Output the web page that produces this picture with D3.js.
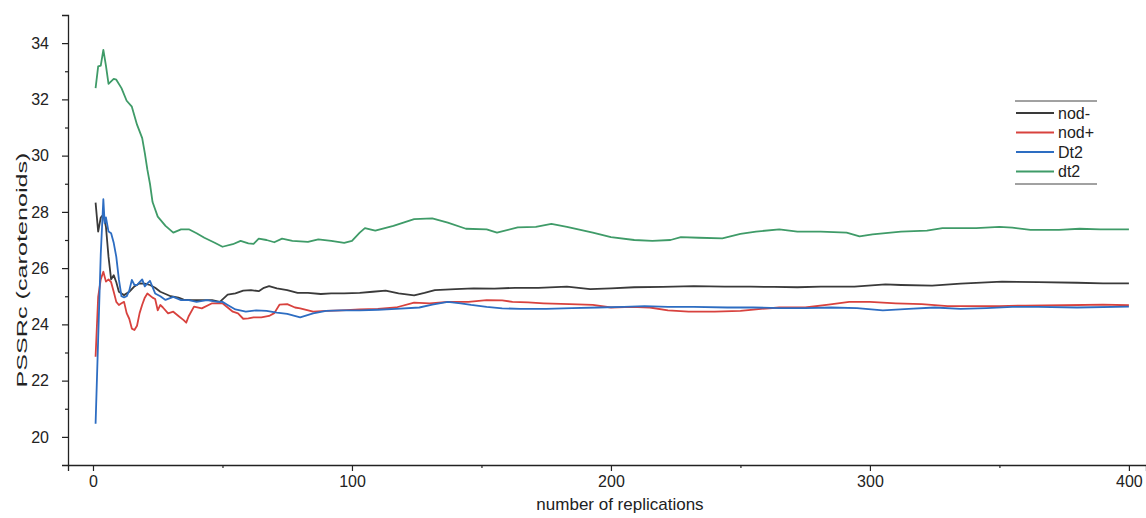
<!DOCTYPE html>
<html>
<head>
<meta charset="utf-8">
<script src="https://cdn.jsdelivr.net/npm/d3@7"></script>
<style>
  body { margin: 0; background: #fff; }
  text { font-family: "Liberation Sans", Arial, sans-serif; fill: #222; }
</style>
</head>
<body>
<div id="chartContainer"></div>
<script>
// [replication, PSSRc] pairs
var nodMinus = [[1,28.33],[2,27.3],[3,27.8],[4,27.9],[5,27.47],[6,26.4],[7,25.6],[8,25.75],[9,25.5],[10,25.16],[11,25.1],[12,25.04],[14,25.16],[16,25.35],[18,25.46],[20,25.45],[22,25.4],[24,25.3],[26,25.16],[28,25.08],[30,25.0],[33,24.95],[35,24.88],[38,24.86],[42,24.86],[46,24.86],[49,24.8],[52,25.06],[55,25.1],[58,25.2],[61,25.22],[64,25.18],[66,25.3],[68,25.36],[71,25.28],[75,25.22],[79,25.12],[83,25.12],[88,25.08],[92,25.1],[97,25.1],[103,25.12],[108,25.16],[113,25.2],[118,25.1],[124,25.03],[128,25.12],[132,25.22],[140,25.25],[147,25.28],[155,25.27],[163,25.3],[172,25.3],[183,25.34],[192,25.25],[200,25.28],[209,25.32],[220,25.33],[232,25.36],[244,25.34],[254,25.34],[263,25.33],[272,25.32],[281,25.34],[294,25.34],[306,25.42],[312,25.4],[324,25.38],[335,25.45],[351,25.52],[365,25.5],[380,25.48],[390,25.46],[400,25.46]];
var nodPlus = [[1,22.85],[2,24.98],[3,25.6],[4,25.87],[5,25.52],[6,25.6],[7,25.5],[8,25.16],[9,24.8],[10,24.69],[11,24.75],[12,24.8],[13,24.4],[14,24.2],[15,23.85],[16,23.8],[17,23.95],[18,24.4],[19,24.7],[20,24.95],[21,25.1],[23,24.95],[24,24.9],[25,24.5],[26,24.69],[27,24.6],[29,24.39],[31,24.45],[33,24.3],[35,24.15],[36,24.06],[37,24.3],[39,24.63],[42,24.57],[46,24.75],[50,24.75],[52,24.6],[54,24.45],[56,24.39],[58,24.2],[60,24.21],[62,24.25],[65,24.25],[68,24.3],[70,24.4],[72,24.7],[75,24.72],[78,24.6],[80,24.57],[85,24.45],[90,24.48],[96,24.5],[103,24.53],[110,24.55],[117,24.6],[124,24.77],[130,24.75],[137,24.8],[145,24.8],[152,24.86],[158,24.85],[162,24.8],[168,24.78],[174,24.75],[184,24.72],[193,24.69],[200,24.6],[208,24.62],[215,24.6],[222,24.5],[230,24.45],[240,24.45],[250,24.48],[258,24.55],[265,24.6],[275,24.6],[284,24.7],[292,24.8],[300,24.8],[310,24.75],[320,24.72],[330,24.65],[340,24.65],[350,24.65],[360,24.67],[375,24.68],[390,24.7],[400,24.68]];
var dt2Upper = [[1,20.47],[2,23.5],[3,26.5],[4,28.45],[4.5,27.6],[5,27.8],[6,27.3],[7,27.24],[8,26.9],[9,26.4],[10,25.6],[11,25.0],[12,24.96],[13,25.0],[14,25.2],[15,25.58],[16,25.4],[17,25.4],[18,25.5],[19,25.6],[20,25.35],[21,25.46],[22,25.55],[24,25.1],[26,25.0],[28,24.87],[31,24.98],[34,24.86],[37,24.86],[40,24.8],[44,24.86],[48,24.8],[50,24.8],[52,24.69],[55,24.53],[59,24.45],[63,24.5],[67,24.48],[71,24.42],[75,24.37],[80,24.25],[85,24.39],[90,24.48],[96,24.5],[103,24.5],[110,24.52],[117,24.55],[126,24.6],[131,24.7],[137,24.8],[142,24.75],[146,24.69],[152,24.62],[158,24.57],[165,24.55],[175,24.55],[185,24.58],[195,24.6],[205,24.62],[213,24.65],[222,24.62],[232,24.62],[245,24.6],[255,24.6],[265,24.58],[275,24.58],[285,24.6],[295,24.58],[305,24.5],[315,24.55],[325,24.6],[335,24.55],[345,24.58],[355,24.62],[365,24.62],[380,24.6],[400,24.63]];
var dt2Lower = [[1,32.4],[2,33.17],[3,33.2],[4,33.76],[5,33.2],[6,32.55],[8,32.73],[9,32.7],[11,32.4],[13,31.95],[15,31.74],[17,31.1],[19,30.62],[20,30.1],[21,29.5],[22,29.0],[23,28.35],[25,27.83],[28,27.5],[31,27.26],[34,27.38],[37,27.38],[40,27.24],[43,27.08],[47,26.9],[50,26.76],[54,26.85],[57,26.97],[60,26.88],[62,26.86],[64,27.05],[67,27.0],[70,26.92],[73,27.05],[77,26.97],[83,26.93],[87,27.02],[92,26.97],[97,26.9],[100,26.97],[103,27.26],[105,27.42],[109,27.33],[116,27.5],[124,27.74],[131,27.77],[137,27.62],[144,27.4],[152,27.38],[156,27.26],[164,27.45],[171,27.47],[177,27.57],[183,27.47],[193,27.26],[200,27.1],[209,27.0],[216,26.97],[223,27.0],[227,27.1],[234,27.08],[243,27.06],[250,27.22],[256,27.3],[265,27.38],[272,27.3],[281,27.3],[291,27.26],[296,27.13],[301,27.2],[312,27.3],[322,27.33],[328,27.42],[341,27.42],[350,27.47],[355,27.44],[362,27.36],[373,27.36],[381,27.4],[389,27.38],[400,27.38]];

var seriesNames = ["nod-", "nod+", "Dt2", "dt2"];
var seriesColors = ["#3a3a3a", "#d8423e", "#2d6dc2", "#3f9b68"];
var xTicks = [0, 100, 200, 300, 400];
var xMinor = [50, 150, 250, 350];
var yTicks = [20, 22, 24, 26, 28, 30, 32, 34];
var yMinor = [21, 23, 25, 27, 29, 31, 33];

var width = 1146, height = 518;
var svg = d3.select("#chartContainer").append("svg")
    .attr("width", width).attr("height", height);

var x = d3.scaleLinear().domain([-9.65, 406.6]).range([68, 1146]);
var y = d3.scaleLinear().domain([19, 35]).range([465, 15]);

// axes (ticks pointing outward, minor ticks shorter)
var gx = svg.append("g").attr("transform", "translate(0,465)");
gx.call(d3.axisBottom(x).tickValues(xTicks).tickSize(6).tickPadding(5).tickFormat(d3.format("d")));
gx.append("g").call(d3.axisBottom(x).tickValues(xMinor).tickSize(3).tickFormat(""))
  .select(".domain").remove();

var gy = svg.append("g").attr("transform", "translate(68,0)");
gy.call(d3.axisLeft(y).tickValues(yTicks).tickSize(6).tickPadding(13).tickFormat(d3.format("d")));
gy.append("g").call(d3.axisLeft(y).tickValues(yMinor).tickSize(3).tickFormat(""))
  .select(".domain").remove();

svg.selectAll(".domain").attr("stroke", "#222").attr("stroke-width", 1.3);
svg.selectAll(".tick line").attr("stroke", "#222").attr("stroke-width", 1.2);
svg.selectAll(".tick text").style("font-size", "16px").style("font-family", "Liberation Sans, Arial, sans-serif").attr("fill", "#222");

// axis titles (the y title is stretched along its length in the original)
svg.append("text").attr("x", 620).attr("y", 510).attr("text-anchor", "middle")
  .style("font-size", "17px").text("number of replications");
svg.append("text").attr("transform", "translate(27,270) rotate(-90)").attr("text-anchor", "middle")
  .attr("textLength", 235).attr("lengthAdjust", "spacingAndGlyphs")
  .style("font-size", "15px").text("PSSRc (carotenoids)");

var line = d3.line().x(function(d) { return x(d[0]); }).y(function(d) { return y(d[1]); });
var allSeries = [nodMinus, nodPlus, dt2Upper, dt2Lower];

allSeries.forEach(function(s, i) {
  svg.append("path").datum(s)
    .attr("fill", "none")
    .attr("stroke", seriesColors[i])
    .attr("stroke-width", 1.8)
    .attr("stroke-linejoin", "round")
    .attr("d", line);
});

// legend, framed by a line above and below like the original
var lg = svg.append("g");
lg.append("line").attr("x1", 1015).attr("x2", 1097).attr("y1", 101).attr("y2", 101).attr("stroke", "#444");
lg.append("line").attr("x1", 1015).attr("x2", 1097).attr("y1", 184).attr("y2", 184).attr("stroke", "#444");
seriesNames.forEach(function(name, i) {
  var yy = 113 + i * 19.5;
  lg.append("line").attr("x1", 1016).attr("x2", 1054).attr("y1", yy).attr("y2", yy)
    .attr("stroke", seriesColors[i]).attr("stroke-width", 2);
  lg.append("text").attr("x", 1058).attr("y", yy + 5.5).style("font-size", "16px").text(name);
});
</script>
</body>
</html>
